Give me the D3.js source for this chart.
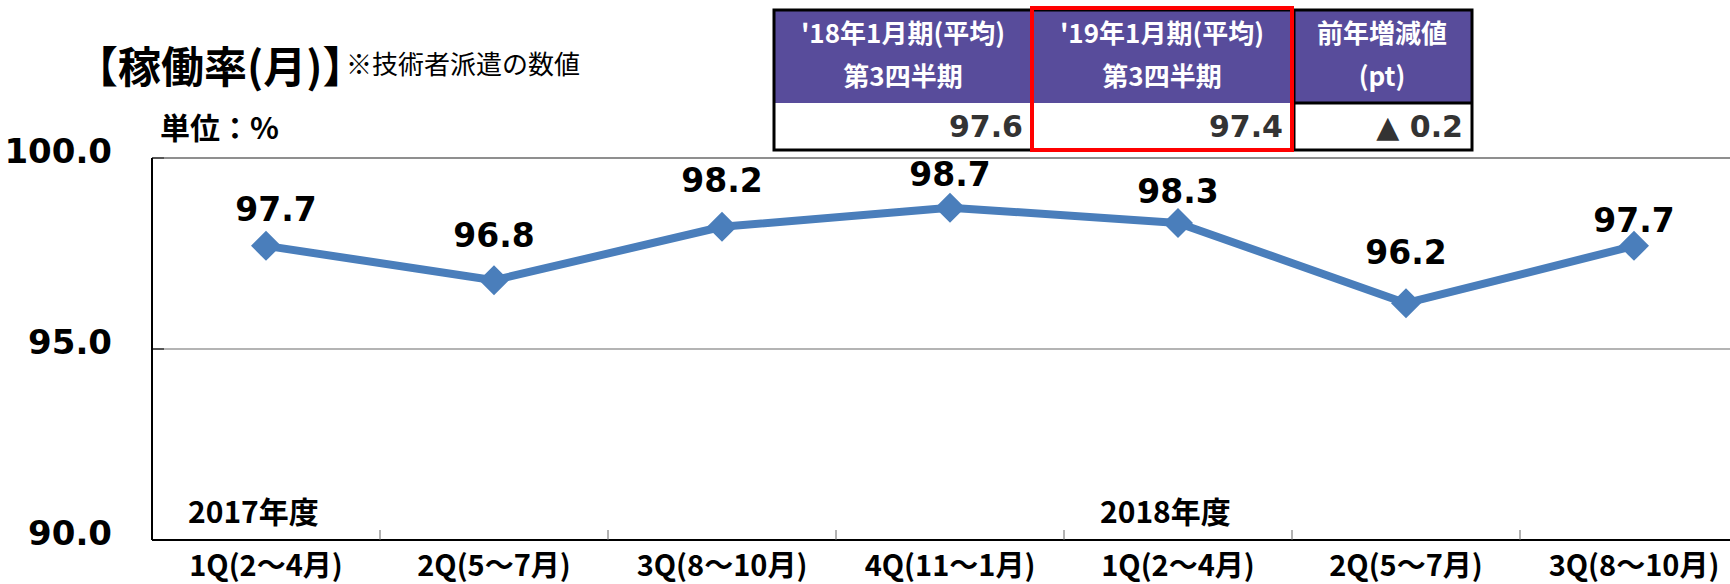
<!DOCTYPE html>
<html>
<head>
<meta charset="utf-8">
<script src="https://cdn.jsdelivr.net/npm/d3@7"></script>
<style>
  body { margin: 0; background: #fff; }
  svg { display: block; }
</style>
</head>
<body>
<svg width="1730" height="584"></svg>
<script>
var categories = ["1Q(2〜4月)", "2Q(5〜7月)", "3Q(8〜10月)", "4Q(11〜1月)", "1Q(2〜4月)", "2Q(5〜7月)", "3Q(8〜10月)"];
var rates = [97.7, 96.8, 98.2, 98.7, 98.3, 96.2, 97.7];
var yTicks = [90, 95, 100];
var yearLabels = ["2017年度", "2018年度"];
var yearStartIdx = [0, 4];
var tableHeads = [["'18年1月期(平均)", "第3四半期"], ["'19年1月期(平均)", "第3四半期"], ["前年増減値", "(pt)"]];
var tableValues = ["97.6", "97.4", "▲ 0.2"];

// how far each data label sits above its point (labels were hand placed)
var labelLift = [37, 45, 47, 34, 32, 51, 26];

var svg = d3.select("svg"),
    plotLeft = 152, plotRight = 1748, plotTop = 158, plotBottom = 540;

var cjk = "'Noto Sans CJK JP', 'Noto Sans', sans-serif";
var num = "'DejaVu Sans', Verdana, sans-serif";

var x = d3.scaleBand()
    .domain(d3.range(categories.length))
    .range([plotLeft, plotRight]);

var y = d3.scaleLinear()
    .domain([90, 100])
    .range([plotBottom, plotTop]);

// gridlines
svg.append("g").selectAll("line")
    .data(yTicks.filter(function(d) { return d > 90; }))
    .enter().append("line")
    .attr("x1", plotLeft).attr("x2", 1730)
    .attr("y1", function(d) { return y(d); })
    .attr("y2", function(d) { return y(d); })
    .attr("stroke", function(d) { return d == 100 ? "#8f8f8f" : "#b4b4b4"; })
    .attr("stroke-width", 2);

// y axis
var yAxis = svg.append("g")
    .attr("transform", "translate(" + plotLeft + ",0)")
    .call(d3.axisLeft(y).tickValues(yTicks).tickFormat(d3.format(".1f")).tickSize(0).tickPadding(40));
yAxis.select(".domain").remove();
yAxis.selectAll("text")
    .attr("y", -6)
    .style("font-family", num)
    .style("font-weight", "bold")
    .style("font-size", "34px")
    .attr("fill", "#000");

svg.append("g").selectAll("line")
    .data(yTicks)
    .enter().append("line")
    .attr("x1", plotLeft).attr("x2", plotLeft + 12)
    .attr("y1", function(d) { return y(d); })
    .attr("y2", function(d) { return y(d); })
    .attr("stroke", "#555")
    .attr("stroke-width", 2);

svg.append("line")
    .attr("x1", plotLeft).attr("x2", plotLeft)
    .attr("y1", plotTop).attr("y2", plotBottom)
    .attr("stroke", "#000").attr("stroke-width", 2);

// x axis
var xAxis = svg.append("g")
    .attr("transform", "translate(0," + plotBottom + ")")
    .call(d3.axisBottom(x).tickFormat(function(i) { return categories[i]; }).tickSize(0).tickPadding(15));
xAxis.select(".domain").remove();
xAxis.selectAll("text")
    .style("font-family", cjk)
    .style("font-weight", "bold")
    .style("font-size", "29px")
    .attr("fill", "#000");

svg.append("line")
    .attr("x1", plotLeft).attr("x2", 1730)
    .attr("y1", plotBottom).attr("y2", plotBottom)
    .attr("stroke", "#000").attr("stroke-width", 2);

svg.append("g").selectAll("line")
    .data(d3.range(1, categories.length))
    .enter().append("line")
    .attr("x1", function(i) { return x(i); })
    .attr("x2", function(i) { return x(i); })
    .attr("y1", plotBottom).attr("y2", plotBottom - 10)
    .attr("stroke", "#666")
    .attr("stroke-width", 1);

// fiscal year labels
svg.append("g").selectAll("text")
    .data(yearLabels)
    .enter().append("text")
    .attr("x", function(d, i) { return x(yearStartIdx[i]) + 36; })
    .attr("y", plotBottom - 28)
    .attr("dy", "0.35em")
    .style("font-family", cjk)
    .style("font-weight", "bold")
    .style("font-size", "30px")
    .text(function(d) { return d; });

// line and markers
var cx = function(d, i) { return x(i) + x.bandwidth() / 2; };

svg.append("path")
    .datum(rates)
    .attr("fill", "none")
    .attr("stroke", "#4a7ebb")
    .attr("stroke-width", 8)
    .attr("stroke-linejoin", "round")
    .attr("d", d3.line().x(cx).y(function(d) { return y(d); }));

svg.append("g").selectAll("path")
    .data(rates)
    .enter().append("path")
    .attr("transform", function(d, i) { return "translate(" + cx(d, i) + "," + y(d) + ")"; })
    .attr("d", "M0,-15L15,0L0,15L-15,0Z")
    .attr("fill", "#4a7ebb");

svg.append("g").selectAll("text")
    .data(rates)
    .enter().append("text")
    .attr("x", function(d, i) { return cx(d, i) + (i == 0 ? 10 : 0); })
    .attr("y", function(d, i) { return y(d) - labelLift[i]; })
    .attr("dy", "0.36em")
    .attr("text-anchor", "middle")
    .style("font-family", num)
    .style("font-weight", "bold")
    .style("font-size", "33px")
    .text(function(d) { return d.toFixed(1); });

// titles
svg.append("text")
    .attr("x", 75).attr("y", 68)
    .attr("dy", "0.35em")
    .style("font-family", cjk)
    .style("font-weight", "bold")
    .style("font-size", "43px")
    .text("【稼働率(月)】");

svg.append("text")
    .attr("x", 346).attr("y", 65)
    .attr("dy", "0.35em")
    .style("font-family", cjk)
    .style("font-size", "26px")
    .text("※技術者派遣の数値");

svg.append("text")
    .attr("x", 160).attr("y", 128)
    .attr("dy", "0.35em")
    .style("font-family", cjk)
    .style("font-weight", "bold")
    .style("font-size", "30px")
    .text("単位：%");

// summary table
var colEdges = [774, 1032, 1292, 1472],
    tTop = 10, tMid = 103, tBot = 150;

var tbl = svg.append("g");
var cols = tbl.selectAll("g").data(tableHeads).enter().append("g");

cols.append("rect")
    .attr("x", function(d, i) { return colEdges[i]; })
    .attr("y", tTop)
    .attr("width", function(d, i) { return colEdges[i + 1] - colEdges[i]; })
    .attr("height", tMid - tTop)
    .attr("fill", "#584c9b");

cols.append("rect")
    .attr("x", function(d, i) { return colEdges[i]; })
    .attr("y", tMid)
    .attr("width", function(d, i) { return colEdges[i + 1] - colEdges[i]; })
    .attr("height", tBot - tMid)
    .attr("fill", "#fff");

cols.each(function(d, i) {
    var g = d3.select(this),
        mid = (colEdges[i] + colEdges[i + 1]) / 2;
    g.selectAll("text.head").data(d).enter().append("text")
        .attr("class", "head")
        .attr("x", mid)
        .attr("y", function(t, j) { return j == 0 ? 34 : 77; })
        .attr("dy", "0.35em")
        .attr("text-anchor", "middle")
        .attr("fill", "#fff")
        .style("font-family", cjk)
        .style("font-weight", "bold")
        .style("font-size", "26px")
        .text(function(t) { return t; });
    g.append("text")
        .attr("x", colEdges[i + 1] - 9)
        .attr("y", 126)
        .attr("dy", "0.36em")
        .attr("text-anchor", "end")
        .attr("fill", "#333")
        .style("font-family", num)
        .style("font-weight", "bold")
        .style("font-size", "30px")
        .text(tableValues[i]);
});

tbl.append("rect")
    .attr("x", colEdges[0]).attr("y", tTop)
    .attr("width", colEdges[3] - colEdges[0]).attr("height", tBot - tTop)
    .attr("fill", "none").attr("stroke", "#000").attr("stroke-width", 3);

tbl.append("line")
    .attr("x1", colEdges[2]).attr("x2", colEdges[3])
    .attr("y1", tMid).attr("y2", tMid)
    .attr("stroke", "#000").attr("stroke-width", 3);

tbl.append("line")
    .attr("x1", colEdges[2] + 2).attr("x2", colEdges[2] + 2)
    .attr("y1", tTop).attr("y2", tBot)
    .attr("stroke", "#000").attr("stroke-width", 3);

tbl.append("rect")
    .attr("x", colEdges[1]).attr("y", tTop - 2)
    .attr("width", colEdges[2] - colEdges[1]).attr("height", tBot - tTop + 2)
    .attr("fill", "none").attr("stroke", "#f00").attr("stroke-width", 4);
</script>
</body>
</html>
